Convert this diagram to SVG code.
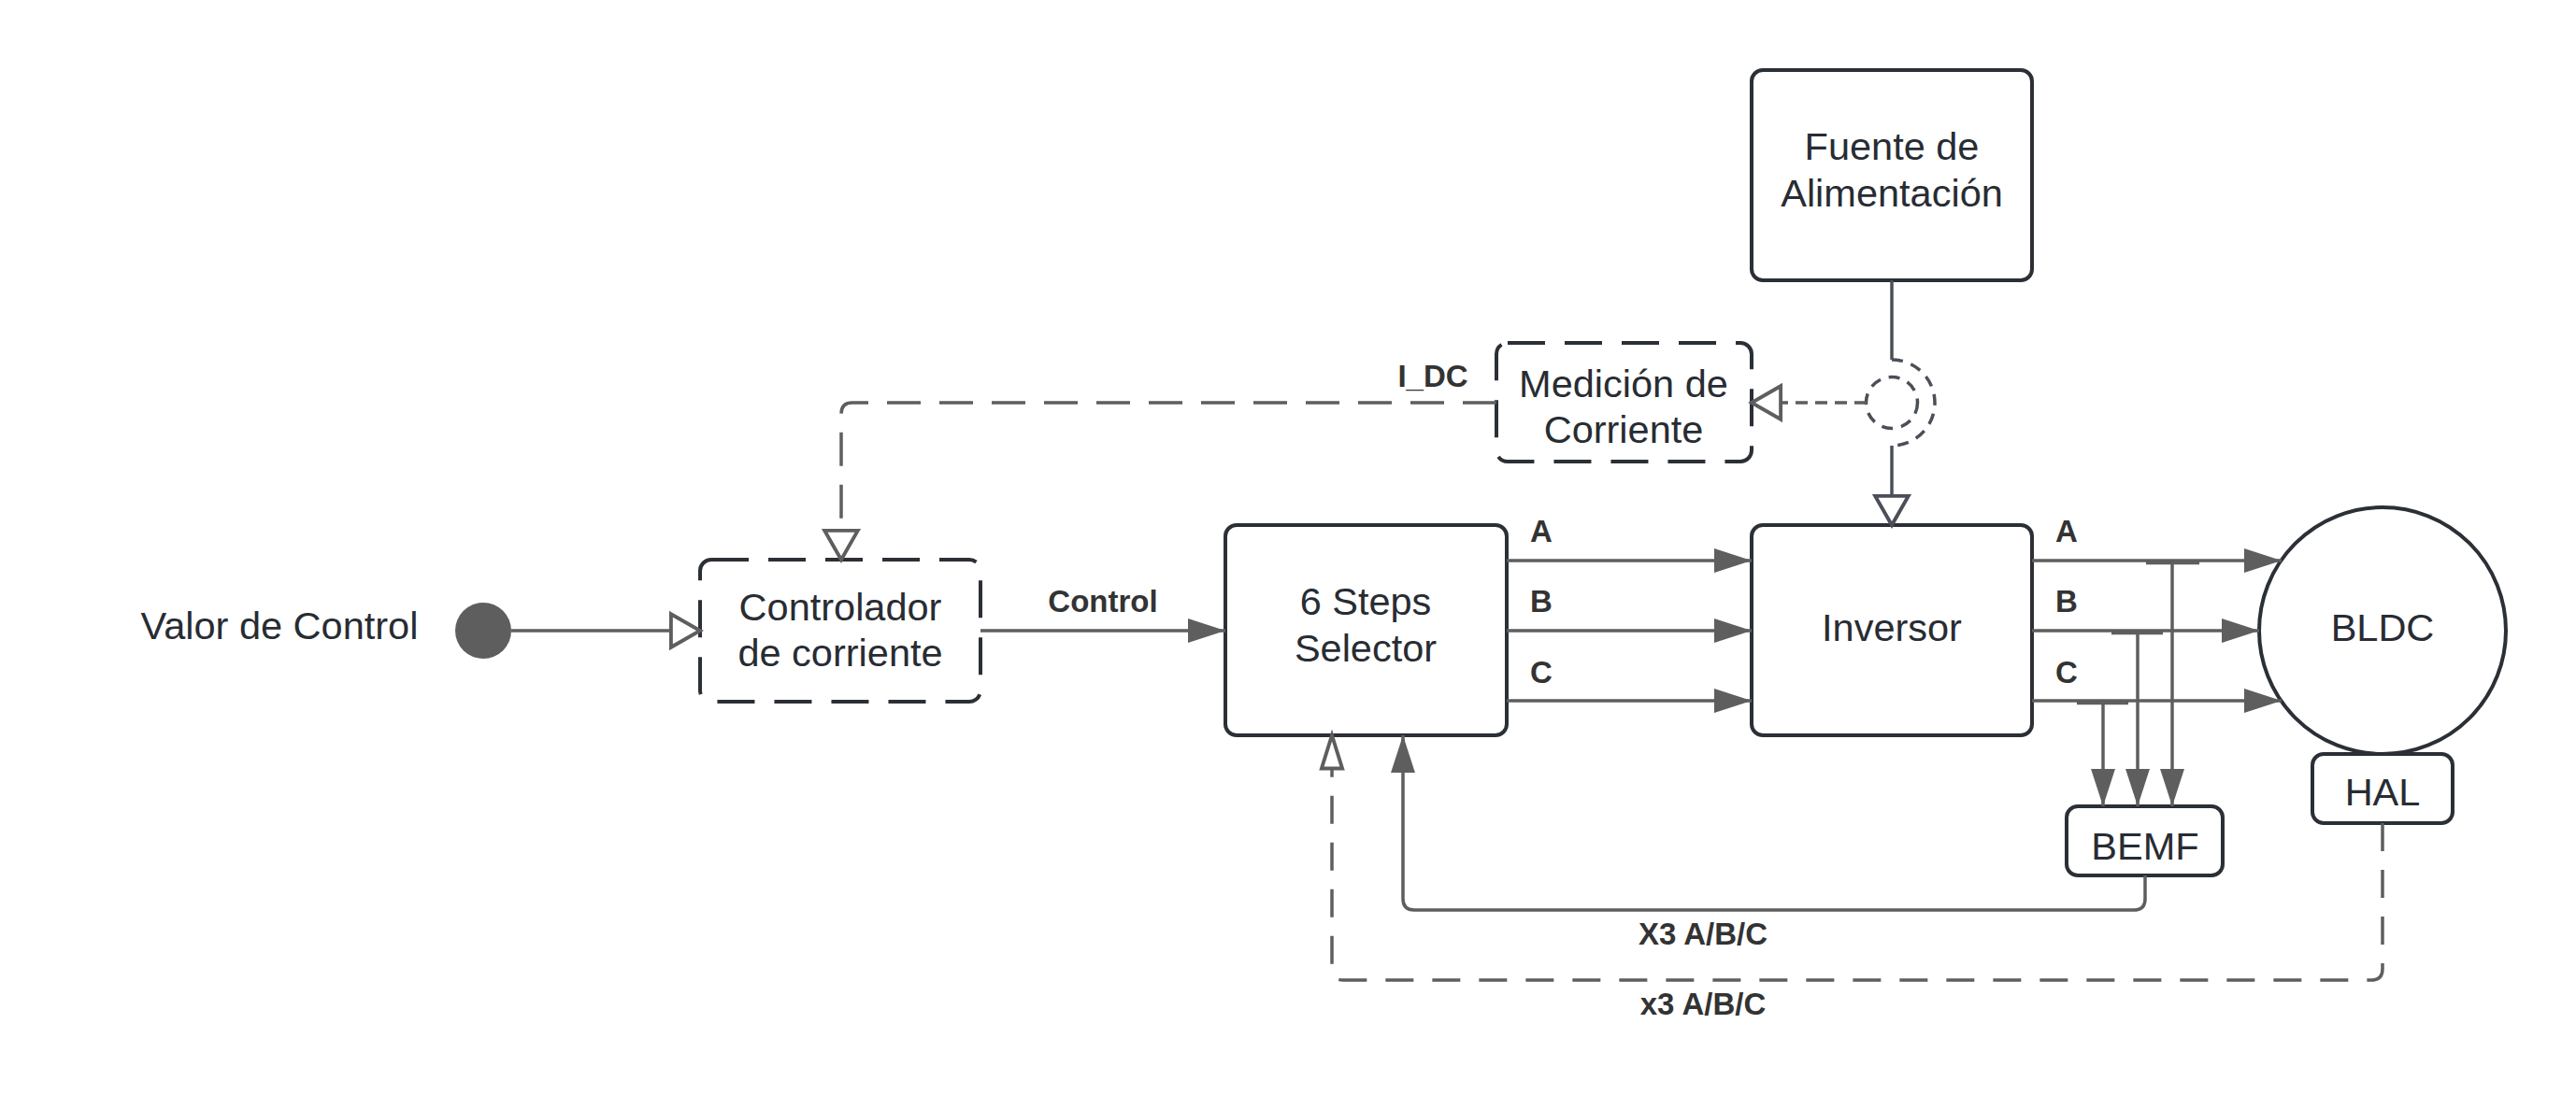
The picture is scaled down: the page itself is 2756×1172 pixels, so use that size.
<svg xmlns="http://www.w3.org/2000/svg" width="2756" height="1172" viewBox="0 0 2756 1172">
<style>
.box{fill:#ffffff;stroke:#2b2f36;stroke-width:4}
.dbox{fill:#ffffff;stroke:#2b2f36;stroke-width:4;stroke-dasharray:40 21}
.t{font-family:"Liberation Sans",Arial,sans-serif;font-size:41.5px;fill:#282c33;text-anchor:middle}
.lb{font-family:"Liberation Sans",Arial,sans-serif;font-size:33px;font-weight:bold;fill:#333333;text-anchor:middle}
.c{fill:none;stroke:#5e5e5e;stroke-width:3.5}
.cd{fill:none;stroke:#5e5e5e;stroke-width:3.5;stroke-dasharray:36 20}
.cb{fill:none;stroke:#4a4f58;stroke-width:3.5}
</style>
<defs>
<marker id="hollow" markerUnits="userSpaceOnUse" markerWidth="40" markerHeight="40" viewBox="-2 -18 32 36" refX="28" refY="0" orient="auto" overflow="visible">
<path d="M0,-16 L28,0 L0,16 Z" fill="#ffffff" stroke="#5e5e5e" stroke-width="3.5"/>
</marker>
<marker id="hollowB" markerUnits="userSpaceOnUse" markerWidth="40" markerHeight="40" viewBox="-2 -18 32 36" refX="28" refY="0" orient="auto" overflow="visible">
<path d="M0,-16 L28,0 L0,16 Z" fill="#ffffff" stroke="#4a4f58" stroke-width="3.5"/>
</marker>
<marker id="hollowS" markerUnits="userSpaceOnUse" markerWidth="40" markerHeight="30" viewBox="-2 -12 36 24" refX="32" refY="0" orient="auto" overflow="visible">
<path d="M0,-10 L32,0 L0,10 Z" fill="#ffffff" stroke="#5e5e5e" stroke-width="3.5"/>
</marker>
<marker id="filled" markerUnits="userSpaceOnUse" markerWidth="40" markerHeight="30" viewBox="0 -12 34 24" refX="34" refY="0" orient="auto" overflow="visible">
<path d="M0,-11 L34,0 L0,11 Z" fill="#5e5e5e"/>
</marker>
</defs>
<rect width="2756" height="1172" fill="#ffffff"/>

<g id="node-valor">
<text class="t" x="299" y="684">Valor de Control</text>
<circle cx="517" cy="675" r="30" fill="#5e5e5e"/>
</g>

<g id="node-controlador">
<rect class="dbox" x="749" y="599" width="300" height="152" rx="12"/>
<text class="t" x="899" y="664">Controlador</text>
<text class="t" x="899" y="713">de corriente</text>
</g>

<g id="node-6steps">
<rect class="box" x="1311" y="562" width="301" height="225" rx="12"/>
<text class="t" x="1461" y="658">6 Steps</text>
<text class="t" x="1461" y="708">Selector</text>
</g>

<g id="node-inversor">
<rect class="box" x="1874" y="562" width="300" height="225" rx="12"/>
<text class="t" x="2024" y="686">Inversor</text>
</g>

<g id="node-fuente">
<rect class="box" x="1874" y="75" width="300" height="225" rx="12"/>
<text class="t" x="2024" y="171">Fuente de</text>
<text class="t" x="2024" y="221">Alimentación</text>
</g>

<g id="node-medicion">
<rect class="dbox" x="1601" y="367" width="273" height="127" rx="12"/>
<text class="t" x="1737" y="425">Medición de</text>
<text class="t" x="1737" y="474">Corriente</text>
</g>

<g id="node-sensor">
<circle cx="2024" cy="431" r="27.5" fill="none" stroke="#4a4f58" stroke-width="3.5" stroke-dasharray="12 9"/>
</g>

<g id="node-bldc">
<circle cx="2549" cy="675" r="132" fill="#ffffff" stroke="#2b2f36" stroke-width="4"/>
<text class="t" x="2549" y="686">BLDC</text>
</g>

<g id="node-hal">
<rect class="box" x="2474" y="807" width="150" height="74" rx="12"/>
<text class="t" x="2549" y="862">HAL</text>
</g>

<g id="node-bemf">
<rect class="box" x="2211" y="863" width="167" height="74" rx="12"/>
<text class="t" x="2295" y="920">BEMF</text>
</g>

<g id="connectors">
<path class="c" d="M547,675 L749,675" marker-end="url(#hollow)"/>
<path class="c" d="M1049,675 L1311,675" marker-end="url(#filled)"/>
<text class="lb" x="1180" y="655">Control</text>

<path class="c" d="M1612,600 L1874,600" marker-end="url(#filled)"/>
<path class="c" d="M1612,675 L1874,675" marker-end="url(#filled)"/>
<path class="c" d="M1612,750 L1874,750" marker-end="url(#filled)"/>
<text class="lb" x="1649" y="580">A</text>
<text class="lb" x="1649" y="655">B</text>
<text class="lb" x="1649" y="731">C</text>

<path class="c" d="M2174,600 L2441,600" marker-end="url(#filled)"/>
<path class="c" d="M2174,675 L2417,675" marker-end="url(#filled)"/>
<path class="c" d="M2174,750 L2441,750" marker-end="url(#filled)"/>
<text class="lb" x="2211" y="580">A</text>
<text class="lb" x="2211" y="655">B</text>
<text class="lb" x="2211" y="731">C</text>

<path class="c" d="M2296,602.5 L2353,602.5"/>
<path class="c" d="M2259,677.5 L2314,677.5"/>
<path class="c" d="M2222,752.5 L2277,752.5"/>
<path class="c" d="M2324,602 L2324,863" marker-end="url(#filled)"/>
<path class="c" d="M2287,677 L2287,863" marker-end="url(#filled)"/>
<path class="c" d="M2250,752 L2250,863" marker-end="url(#filled)"/>

<path class="c" d="M2295,937 L2295,962 Q2295,974 2283,974 L1513,974 Q1501,974 1501,962 L1501,787" marker-end="url(#filled)"/>
<text class="lb" x="1822" y="1011">X3 A/B/C</text>

<path class="c" d="M2549,881 L2549,1037 Q2549,1049 2537,1049 L1437,1049 Q1425,1049 1425,1037 L1425,787" stroke-dasharray="30 20" marker-end="url(#hollowS)"/>
<text class="lb" x="1822" y="1086">x3 A/B/C</text>

<path class="cd" d="M1601,431 L912,431 Q900,431 900,443 L900,599" marker-end="url(#hollow)"/>
<text class="lb" x="1533" y="414">I_DC</text>

<path class="c" d="M1997,431 L1874,431" stroke-dasharray="13 8" marker-end="url(#hollow)"/>

<path class="cb" d="M2024,300 L2024,385"/>
<path class="cb" d="M2024,385 A46,46 0 0 1 2024,477" stroke-dasharray="12 9"/>
<path class="cb" d="M2024,477 L2024,562" marker-end="url(#hollowB)"/>
</g>
</svg>
